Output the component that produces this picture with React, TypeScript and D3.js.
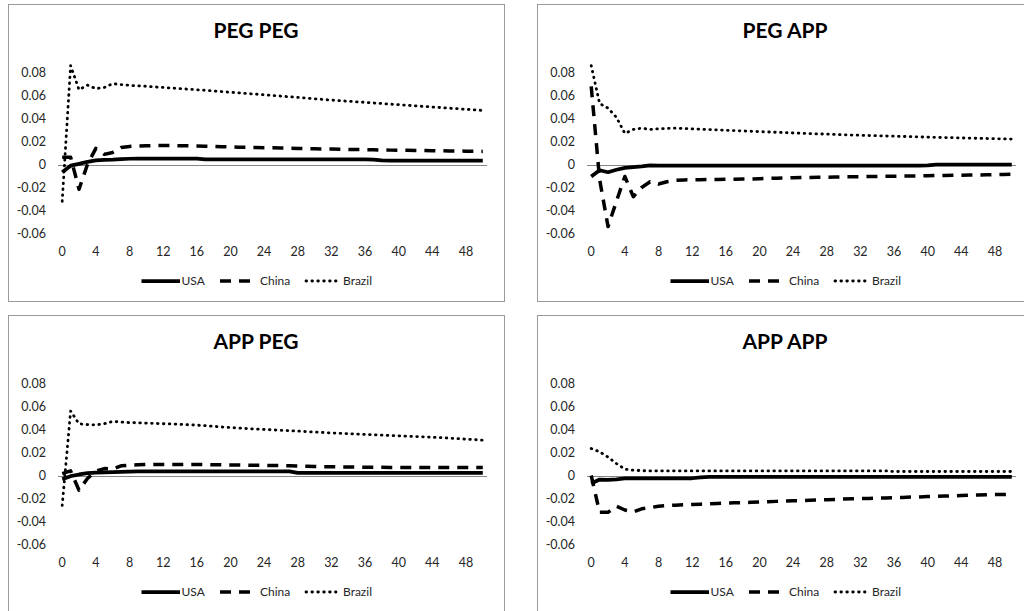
import React, { useRef, useEffect } from "react";
import * as d3 from "d3";

const seriesNames = ["USA", "China", "Brazil"];
const panelTitles = ["PEG PEG", "PEG APP", "APP PEG", "APP APP"];
const xTicks = [0, 4, 8, 12, 16, 20, 24, 28, 32, 36, 40, 44, 48];
const yTicks = [0.08, 0.06, 0.04, 0.02, 0, -0.02, -0.04, -0.06];

// responses over periods 0..50
const pegPegUsa = [
  -0.0067, -0.001, 0.0006, 0.0023, 0.0035, 0.004, 0.0042, 0.0046, 0.005, 0.0051,
  0.0052, 0.0052, 0.0052, 0.0052, 0.0052, 0.0052, 0.0051, 0.0044, 0.0044, 0.0044,
  0.0044, 0.0044, 0.0044, 0.0044, 0.0044, 0.0044, 0.0044, 0.0044, 0.0044, 0.0044,
  0.0044, 0.0044, 0.0044, 0.0044, 0.0044, 0.0044, 0.0044, 0.0043, 0.0035, 0.0034,
  0.0034, 0.0034, 0.0034, 0.0034, 0.0034, 0.0034, 0.0034, 0.0033, 0.0033, 0.0033,
  0.0033,
];
const pegPegChina = [
  0.0064, 0.0064, -0.0215, 0.0, 0.014, 0.0088, 0.0105, 0.0148, 0.0157, 0.016,
  0.0163, 0.0165, 0.0165, 0.0164, 0.0163, 0.0162, 0.0161, 0.0159, 0.0157, 0.0155,
  0.0153, 0.0151, 0.015, 0.0148, 0.0146, 0.0145, 0.0143, 0.0141, 0.014, 0.0138,
  0.0137, 0.0135, 0.0134, 0.0133, 0.0131, 0.013, 0.0129, 0.0128, 0.0126, 0.0125,
  0.0124, 0.0123, 0.0122, 0.0121, 0.012, 0.0119, 0.0118, 0.0117, 0.0116, 0.0115,
  0.0114,
];
const pegPegBrazil = [
  -0.032, 0.086, 0.065, 0.069, 0.066, 0.067, 0.0703, 0.0695, 0.0688, 0.0684,
  0.068, 0.0675, 0.067, 0.0665, 0.066, 0.0655, 0.065, 0.0645, 0.064, 0.0634,
  0.0628, 0.0623, 0.0617, 0.0612, 0.0606, 0.06, 0.0595, 0.0589, 0.0584, 0.0578,
  0.0572, 0.0566, 0.056, 0.0555, 0.055, 0.0545, 0.054, 0.0535, 0.053, 0.0525,
  0.052, 0.0515, 0.051, 0.0505, 0.05, 0.0495, 0.049, 0.0485, 0.048, 0.0475,
  0.047,
];

const pegAppUsa = [
  -0.0104, -0.005, -0.0067, -0.0046, -0.003, -0.0022, -0.0016, -0.0008, -0.0009, -0.0009,
  -0.0009, -0.0009, -0.0009, -0.0009, -0.0009, -0.0009, -0.0009, -0.0009, -0.0009, -0.0009,
  -0.0009, -0.0009, -0.0009, -0.0009, -0.0009, -0.0009, -0.0009, -0.0009, -0.0009, -0.0009,
  -0.0009, -0.0009, -0.0009, -0.0009, -0.0009, -0.0009, -0.0009, -0.0009, -0.0009, -0.0009,
  -0.0008, -0.0002, 0.0, 0.0, 0.0, 0.0, 0.0, 0.0, 0.0, 0.0,
  0.0,
];
const pegAppChina = [
  0.068, -0.013, -0.054, -0.032, -0.0104, -0.028, -0.02, -0.015, -0.017, -0.015,
  -0.0138, -0.0134, -0.0133, -0.0132, -0.0131, -0.013, -0.0129, -0.0128, -0.0127, -0.0126,
  -0.0123, -0.0121, -0.0119, -0.0117, -0.0115, -0.0113, -0.0112, -0.0111, -0.011, -0.0109,
  -0.0108, -0.0107, -0.0106, -0.0105, -0.0104, -0.0103, -0.0102, -0.0101, -0.01, -0.0099,
  -0.0097, -0.0096, -0.0095, -0.0094, -0.0093, -0.0092, -0.0091, -0.009, -0.0088, -0.0087,
  -0.0085,
];
const pegAppBrazil = [
  0.086, 0.053, 0.049, 0.041, 0.027, 0.0305, 0.0316, 0.0305, 0.031, 0.0314,
  0.0316, 0.0313, 0.031, 0.0307, 0.0304, 0.0301, 0.0298, 0.0295, 0.0292, 0.0289,
  0.0286, 0.0283, 0.028, 0.0277, 0.0274, 0.0271, 0.0268, 0.0266, 0.0264, 0.0261,
  0.0259, 0.0256, 0.0254, 0.0252, 0.025, 0.0248, 0.0246, 0.0244, 0.0242, 0.024,
  0.0238, 0.0236, 0.0234, 0.0233, 0.0231, 0.0229, 0.0228, 0.0226, 0.0224, 0.0223,
  0.0221,
];

const appPegUsa = [
  -0.0032, -0.0006, 0.0009, 0.002, 0.0026, 0.0028, 0.003, 0.0032, 0.0034, 0.0035,
  0.0035, 0.0035, 0.0035, 0.0035, 0.0035, 0.0035, 0.0035, 0.0035, 0.0035, 0.0035,
  0.0035, 0.0035, 0.0035, 0.0035, 0.0035, 0.0035, 0.0035, 0.0035, 0.0023, 0.0023,
  0.0023, 0.0023, 0.0023, 0.0023, 0.0023, 0.0023, 0.0023, 0.0023, 0.0023, 0.0023,
  0.0023, 0.0023, 0.0023, 0.0023, 0.0023, 0.0023, 0.0023, 0.0023, 0.0023, 0.0023,
  0.0023,
];
const appPegChina = [
  0.0017, 0.004, -0.0128, -0.0026, 0.0038, 0.006, 0.0055, 0.0084, 0.009, 0.0093,
  0.0095, 0.0096, 0.0096, 0.0096, 0.0096, 0.0096, 0.0096, 0.0095, 0.0094, 0.0093,
  0.0092, 0.0091, 0.009, 0.0089, 0.0088, 0.0087, 0.0086, 0.0085, 0.0082, 0.008,
  0.0078, 0.0077, 0.0076, 0.0075, 0.0074, 0.0073, 0.0072, 0.0071, 0.0071, 0.007,
  0.007, 0.007, 0.007, 0.007, 0.007, 0.007, 0.007, 0.007, 0.007, 0.007,
  0.007,
];
const appPegBrazil = [
  -0.026, 0.056, 0.045, 0.0443, 0.044, 0.045, 0.047, 0.0465, 0.046, 0.0458,
  0.0455, 0.0453, 0.045, 0.0448, 0.0445, 0.0441, 0.0438, 0.0433, 0.0428, 0.0422,
  0.0417, 0.0413, 0.0408, 0.0404, 0.04, 0.0397, 0.0393, 0.039, 0.0386, 0.0382,
  0.0378, 0.0374, 0.037, 0.0367, 0.0364, 0.036, 0.0357, 0.0354, 0.0351, 0.0348,
  0.0345, 0.0342, 0.0339, 0.0336, 0.0333, 0.0329, 0.0325, 0.0321, 0.0316, 0.0312,
  0.0307,
];

const appAppUsa = [
  -0.007, -0.0035, -0.0038, -0.0033, -0.0026, -0.0024, -0.0024, -0.0024, -0.0024, -0.0024,
  -0.0024, -0.0024, -0.0024, -0.0016, -0.0012, -0.0012, -0.0012, -0.0012, -0.0012, -0.0012,
  -0.0012, -0.0012, -0.0012, -0.0012, -0.0012, -0.0012, -0.0012, -0.0012, -0.0012, -0.0012,
  -0.0012, -0.0012, -0.0012, -0.0012, -0.0012, -0.0012, -0.0012, -0.0012, -0.0012, -0.0012,
  -0.0012, -0.0012, -0.0012, -0.0012, -0.0012, -0.0012, -0.0012, -0.0012, -0.0012, -0.0012,
  -0.0012,
];
const appAppChina = [
  0.0, -0.032, -0.032, -0.0267, -0.03, -0.0316, -0.029, -0.028, -0.0267, -0.0262,
  -0.0258, -0.0255, -0.0252, -0.0249, -0.0246, -0.0243, -0.024, -0.0238, -0.0235, -0.0233,
  -0.023, -0.0228, -0.0225, -0.0223, -0.022, -0.0218, -0.0215, -0.0213, -0.021, -0.0208,
  -0.0205, -0.0203, -0.02, -0.0199, -0.0197, -0.0195, -0.0194, -0.0191, -0.0188, -0.0186,
  -0.0183, -0.0181, -0.0179, -0.0176, -0.0174, -0.0172, -0.017, -0.0168, -0.0165, -0.0165,
  -0.0165,
];
const appAppBrazil = [
  0.0235, 0.0206, 0.016, 0.0104, 0.0055, 0.0046, 0.0042, 0.004, 0.004, 0.004,
  0.004, 0.004, 0.004, 0.004, 0.004, 0.004, 0.004, 0.004, 0.004, 0.004,
  0.004, 0.004, 0.004, 0.004, 0.004, 0.004, 0.004, 0.004, 0.004, 0.004,
  0.004, 0.004, 0.004, 0.004, 0.004, 0.004, 0.0035, 0.0035, 0.0035, 0.0035,
  0.0035, 0.0035, 0.0035, 0.0035, 0.0035, 0.0035, 0.0035, 0.0035, 0.0035, 0.0035,
  0.0035,
];

const panelSeries = [
  [pegPegUsa, pegPegChina, pegPegBrazil],
  [pegAppUsa, pegAppChina, pegAppBrazil],
  [appPegUsa, appPegChina, appPegBrazil],
  [appAppUsa, appAppChina, appAppBrazil],
];

const FONT = "Lato, 'Open Sans', sans-serif";
const panelOrigins = [
  [8, 4],
  [537, 4],
  [8, 315],
  [537, 315],
];
const lineStyles = [
  { width: 3.75, dash: null, cap: "butt" },
  { width: 3.5, dash: "11,8", cap: "butt" },
  { width: 2.8, dash: "0.6,5.3", cap: "round" },
];

const App = () => {
  const svgRef = useRef<SVGSVGElement>(null);

  useEffect(() => {
    const svg = d3.select(svgRef.current);
    svg.selectAll("*").remove();

    const x = d3.scaleLinear().domain([-0.5, 50.5]).range([50, 479]);
    const y = d3.scaleLinear().domain([-0.06, 0.08]).range([229.5, 68.5]);
    const line = d3
      .line<number>()
      .x((d, i) => x(i))
      .y((d) => y(d));

    panelTitles.forEach((title, p) => {
      const [ox, oy] = panelOrigins[p];
      const g = svg.append("g").attr("transform", `translate(${ox},${oy})`);

      g.append("rect")
        .attr("x", 0.5)
        .attr("y", 0.5)
        .attr("width", 496)
        .attr("height", 297)
        .attr("fill", "#fff")
        .attr("stroke", "#9a9a9a");

      g.append("text")
        .attr("x", 248)
        .attr("y", 34)
        .attr("text-anchor", "middle")
        .attr("font-family", FONT)
        .attr("font-weight", "bold")
        .attr("font-size", 21)
        .attr("fill", "#000")
        .text(title);

      // y tick labels
      g.selectAll(".ytick")
        .data(yTicks)
        .enter()
        .append("text")
        .attr("x", 38)
        .attr("y", (d) => y(d))
        .attr("dy", "0.36em")
        .attr("text-anchor", "end")
        .attr("font-family", FONT)
        .attr("font-size", 12.5)
        .attr("fill", "#262626")
        .text((d) => String(d));

      // x tick labels
      g.selectAll(".xtick")
        .data(xTicks)
        .enter()
        .append("text")
        .attr("x", (d) => x(d))
        .attr("y", 252)
        .attr("text-anchor", "middle")
        .attr("font-family", FONT)
        .attr("font-size", 12.5)
        .attr("fill", "#262626")
        .text((d) => String(d));

      // horizontal axis at zero
      g.append("line")
        .attr("x1", x(-0.5))
        .attr("x2", x(50.5))
        .attr("y1", Math.round(y(0)) + 0.5)
        .attr("y2", Math.round(y(0)) + 0.5)
        .attr("stroke", "#868686")
        .attr("stroke-width", 1);

      panelSeries[p].forEach((values, s) => {
        const st = lineStyles[s];
        g.append("path")
          .datum(values)
          .attr("d", line)
          .attr("fill", "none")
          .attr("stroke", "#000")
          .attr("stroke-width", st.width)
          .attr("stroke-linejoin", "round")
          .attr("stroke-linecap", st.cap)
          .attr("stroke-dasharray", st.dash);
      });

      // legend
      const legendY = 277;
      const legendItems = [
        { x1: 133.5, x2: 172, tx: 173.5 },
        { x1: 212, x2: 242, tx: 252 },
        { x1: 298, x2: 328, tx: 335 },
      ];
      seriesNames.forEach((name, s) => {
        const it = legendItems[s];
        const st = lineStyles[s];
        g.append("line")
          .attr("x1", it.x1)
          .attr("x2", it.x2)
          .attr("y1", legendY)
          .attr("y2", legendY)
          .attr("stroke", "#000")
          .attr("stroke-width", st.width)
          .attr("stroke-linecap", st.cap)
          .attr("stroke-dasharray", st.dash);
        g.append("text")
          .attr("x", it.tx)
          .attr("y", legendY)
          .attr("dy", "0.36em")
          .attr("font-family", FONT)
          .attr("font-size", 12)
          .attr("fill", "#262626")
          .text(name);
      });
    });
  }, []);

  return (
    <svg
      ref={svgRef}
      width={1024}
      height={611}
      style={{ position: "absolute", left: 0, top: 0, background: "#fff" }}
    />
  );
};

export default App;
